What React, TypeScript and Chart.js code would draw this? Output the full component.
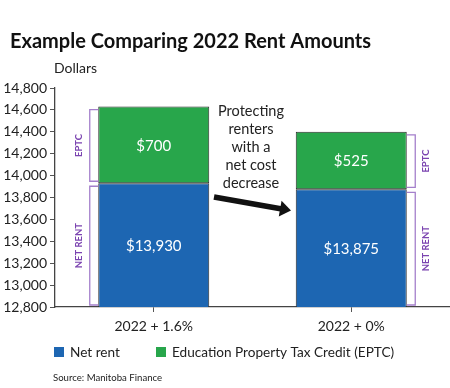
import React, { useEffect, useRef } from "react";
import { Chart, registerables } from "chart.js";

Chart.register(...registerables);

const title = "Example Comparing 2022 Rent Amounts";
const yAxisLabel = "Dollars";
const categories = ["2022 + 1.6%", "2022 + 0%"];
const seriesNames = ["Net rent", "Education Property Tax Credit (EPTC)"];
const netRent = [13930, 13875];
const eptc = [700, 525];
const yMin = 12800;
const yMax = 14800;
const yStep = 200;
const bracketLabels = ["NET RENT", "EPTC"];
const annotationLines = ["Protecting", "renters", "with a", "net cost", "decrease"];
const source = "Source: Manitoba Finance";

const BLUE = "#1d66b2";
const GREEN = "#28a64b";
const PURPLE_LINE = "#a47fcb";
const PURPLE_TEXT = "#7b44b0";
const FONT = "Lato";

const fmtMoney = (v: number) => "$" + v.toLocaleString("en-US");

const overlayPlugin = {
  id: "overlay",
  afterDatasetsDraw(chart: any) {
    const ctx = chart.ctx;
    const area = chart.chartArea;
    ctx.save();
    // value labels inside bars
    chart.data.datasets.forEach((ds: any, di: number) => {
      const meta = chart.getDatasetMeta(di);
      meta.data.forEach((el: any, i: number) => {
        const top = Math.max(el.y, area.top);
        const bottom = Math.min(el.base, area.bottom);
        ctx.fillStyle = "#ffffff";
        ctx.font = `15px ${FONT}`;
        ctx.textAlign = "center";
        ctx.textBaseline = "middle";
        ctx.fillText(fmtMoney(ds.data[i]), el.x, (top + bottom) / 2 + 1);
      });
    });
    // brackets
    const drawBracket = (el: any, side: number, label: string) => {
      const top = Math.max(el.y, area.top) + 3;
      const bottom = Math.min(el.base, area.bottom) - 2;
      const edge = el.x + side * (el.width / 2);
      const lineX = edge + side * 8.5;
      ctx.strokeStyle = PURPLE_LINE;
      ctx.lineWidth = 1.3;
      ctx.beginPath();
      ctx.moveTo(edge, top);
      ctx.lineTo(lineX, top);
      ctx.lineTo(lineX, bottom);
      ctx.lineTo(edge, bottom);
      ctx.stroke();
      ctx.save();
      ctx.translate(lineX + side * 11, (top + bottom) / 2);
      ctx.rotate(-Math.PI / 2);
      ctx.fillStyle = PURPLE_TEXT;
      ctx.font = `bold 9.5px ${FONT}`;
      ctx.textAlign = "center";
      ctx.textBaseline = "middle";
      ctx.fillText(label, 0, 0);
      ctx.restore();
    };
    [0, 1].forEach((di) => {
      const meta = chart.getDatasetMeta(di);
      drawBracket(meta.data[0], -1, bracketLabels[di]);
      drawBracket(meta.data[1], 1, bracketLabels[di]);
    });
    ctx.restore();
  },
  afterDraw(chart: any) {
    const ctx = chart.ctx;
    ctx.save();
    ctx.fillStyle = "#111";
    ctx.textBaseline = "alphabetic";
    ctx.textAlign = "left";
    ctx.font = `bold 20px ${FONT}`;
    ctx.fillText(title, 10, 48);
    ctx.font = `14px ${FONT}`;
    ctx.fillStyle = "#222";
    ctx.fillText(yAxisLabel, 54, 73);

    // annotation
    ctx.font = `14.5px ${FONT}`;
    ctx.textAlign = "center";
    annotationLines.forEach((l, i) => ctx.fillText(l, 251, 116 + i * 18));

    // arrow
    ctx.fillStyle = "#111";
    ctx.strokeStyle = "#111";
    ctx.lineWidth = 5.5;
    ctx.beginPath();
    ctx.moveTo(214, 197);
    ctx.lineTo(282, 209);
    ctx.stroke();
    const ang = Math.atan2(12, 68);
    const tipX = 291, tipY = 210.5;
    const back = 11, half = 8;
    const bx = tipX - back * Math.cos(ang), by = tipY - back * Math.sin(ang);
    ctx.beginPath();
    ctx.moveTo(tipX, tipY);
    ctx.lineTo(bx - half * Math.sin(ang), by + half * Math.cos(ang));
    ctx.lineTo(bx + half * Math.sin(ang), by - half * Math.cos(ang));
    ctx.closePath();
    ctx.fill();

    // legend
    ctx.textAlign = "left";
    ctx.font = `13.6px ${FONT}`;
    ctx.fillStyle = BLUE;
    ctx.fillRect(54, 347, 10, 10);
    ctx.fillStyle = GREEN;
    ctx.fillRect(156, 347, 10, 10);
    ctx.fillStyle = "#222";
    ctx.fillText(seriesNames[0], 70, 357);
    ctx.fillText(seriesNames[1], 172, 357);

    // source
    ctx.font = `9.6px ${FONT}`;
    ctx.fillStyle = "#222";
    ctx.fillText(source, 53, 381);
    ctx.restore();
  },
};

export default function App() {
  const ref = useRef<HTMLCanvasElement | null>(null);
  useEffect(() => {
    if (!ref.current) return;
    const chart = new Chart(ref.current, {
      type: "bar",
      data: {
        labels: categories,
        datasets: [
          {
            label: seriesNames[0],
            data: netRent,
            backgroundColor: BLUE,
            borderColor: "#2a2a2a",
            borderWidth: 1,
            borderSkipped: false,
          },
          {
            label: seriesNames[1],
            data: eptc,
            backgroundColor: GREEN,
            borderColor: "#2a2a2a",
            borderWidth: 1,
            borderSkipped: false,
          },
        ],
      },
      options: {
        responsive: false,
        animation: false,
        devicePixelRatio: 1,
        layout: { padding: { left: 0, top: 88, right: 0, bottom: 51 } },
        datasets: { bar: { categoryPercentage: 1, barPercentage: 0.562 } },
        plugins: {
          legend: { display: false },
          title: { display: false },
          tooltip: { enabled: false },
        },
        scales: {
          x: {
            stacked: true,
            offset: true,
            afterFit: (s: any) => {
              s.height = 30;
            },
            grid: {
              drawOnChartArea: false,
              drawTicks: true,
              tickLength: 5,
              color: "#555",
              offset: false,
            },
            border: { color: "#444", width: 1.3 },
            ticks: {
              color: "#222",
              font: { family: FONT, size: 14 },
              padding: 6,
            },
          },
          y: {
            stacked: true,
            min: yMin,
            max: yMax,
            afterFit: (s: any) => {
              s.width = 55;
            },
            grid: {
              drawOnChartArea: false,
              drawTicks: true,
              tickLength: 5,
              color: "#555",
            },
            border: { color: "#444", width: 1.3 },
            ticks: {
              stepSize: yStep,
              color: "#222",
              font: { family: FONT, size: 14 },
              padding: 3,
              callback: (v: any) => Number(v).toLocaleString("en-US"),
            },
          },
        },
      },
      plugins: [overlayPlugin],
    });
    return () => chart.destroy();
  }, []);
  return (
    <div style={{ position: "absolute", left: 0, top: 0, width: 450, height: 388, background: "#fff" }}>
      <canvas ref={ref} width={450} height={388} />
    </div>
  );
}
